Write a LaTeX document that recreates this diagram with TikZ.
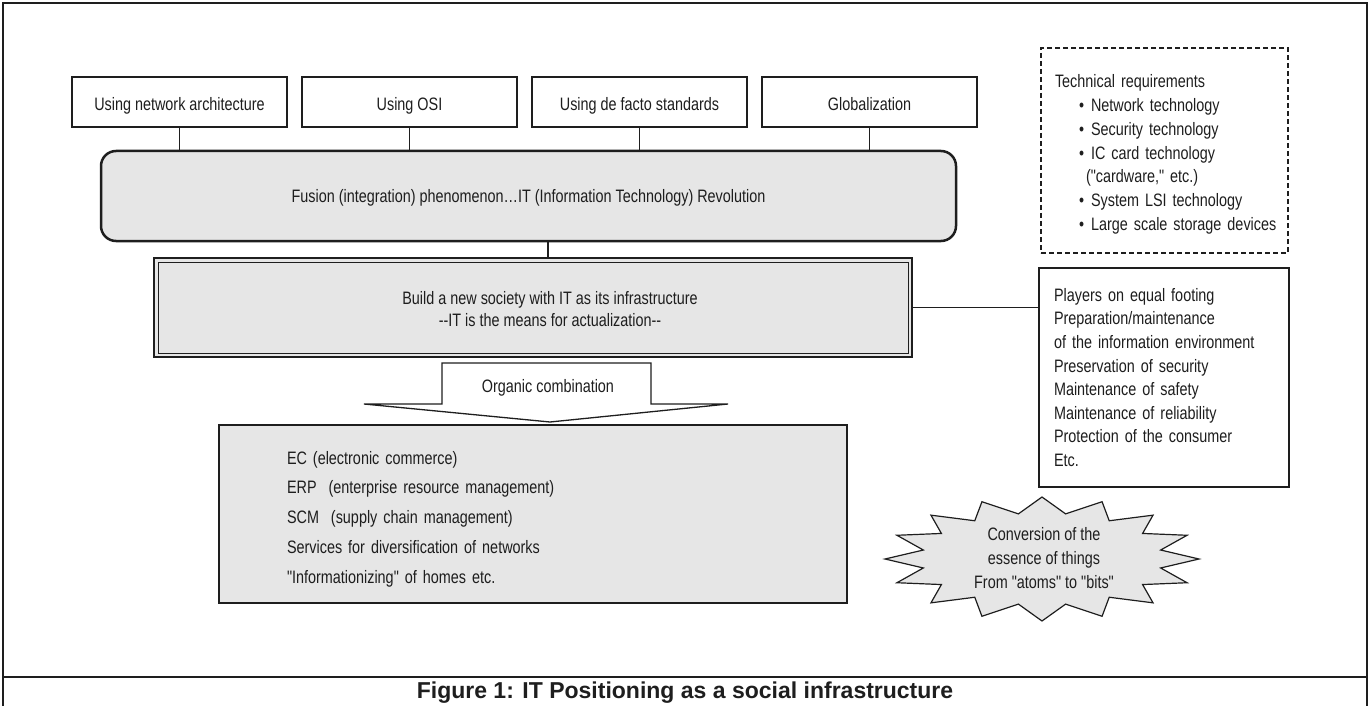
\documentclass[tikz,border=0pt]{standalone}
\usepackage{fontspec}
\setmainfont[FakeStretch=0.80, Ligatures=TeXOff]{Liberation Sans}
\newfontfamily\capfont{Liberation Sans}
\definecolor{ink}{HTML}{1E1E1E}
\definecolor{fillgray}{HTML}{E6E6E6}
\tikzset{
  txt/.style={font=\fontsize{18}{23.6}\selectfont, text=ink},
  topbox/.style={txt, draw=ink, line width=1.3pt, fill=white, minimum width=215pt, minimum height=50pt, inner sep=0pt, text height=17pt, text depth=0pt},
  fusbox/.style={txt, draw=ink, line width=2.5pt, fill=fillgray, rounded corners=15pt, minimum width=855pt, minimum height=90pt, text height=13pt, text depth=0pt},
  dblbox/.style={draw=ink, line width=2.5pt, fill=fillgray, minimum width=758pt, minimum height=99pt, inner sep=0pt},
  plbox/.style={txt, draw=ink, line width=1.3pt, fill=white, align=left, inner xsep=15pt, text width=220pt, minimum height=219pt},
  reqbox/.style={txt, draw=ink, line width=1.3pt, dash pattern=on 5pt off 3pt, align=left, inner xsep=14pt, text width=219pt, minimum height=205pt, font=\fontsize{18}{23.8}\selectfont},
  appbox/.style={txt, draw=ink, line width=2.3pt, fill=fillgray, align=left, inner xsep=68pt, text width=492pt, minimum height=178pt, font=\fontsize{18}{29.7}\selectfont},
  conn/.style={draw=ink, line width=1.3pt},
  orgshape/.style={draw=ink, line width=1.3pt, fill=white, line join=miter},
  burstshape/.style={draw=ink, line width=1.2pt, fill=fillgray, line join=miter},
  framestyle/.style={draw=ink, line width=2.5pt}
}
\begin{document}
\begin{tikzpicture}[x=1pt, y=-1pt]
\useasboundingbox (0,0) rectangle (1371,706);
% frame
\draw[framestyle] (3,706) -- (3,3) -- (1367,3) -- (1367,706);
\draw[framestyle] (3,677) -- (1367,677);

% top boxes
\node[topbox] (t1) at (179.5,102) {Using network architecture};
\node[topbox] (t2) at (409.5,102) {Using OSI};
\node[topbox] (t3) at (639.5,102) {Using de facto standards};
\node[topbox] (t4) at (869.5,102) {Globalization};

% fusion box
\node[fusbox] (fus) at (528.5,196) {Fusion (integration) phenomenon…IT (Information Technology) Revolution};

\foreach \b in {t1,t2,t3,t4}{
  \draw[conn] (\b.south) -- (\b.south |- fus.north);
}

% double box
\node[dblbox] (dbl) at (533,307.5) {};
\draw[draw=ink, line width=1pt] ([shift={(6,6)}]dbl.north west) rectangle ([shift={(-5,-5)}]dbl.south east);
\node[txt, align=center, font=\fontsize{18}{22}\selectfont] (dbltext) at (550,309) {Build a new society with IT as its infrastructure\\--IT is the means for actualization--};

% organic combination arrow
\coordinate (orgc) at (548,388);
\draw[conn] (fus.south -| orgc) -- (dbl.north -| orgc);
\draw[orgshape] (442,363) -- (651,363) -- (651,404) -- (728,404) -- (550,422) -- (364,404) -- (442,404) -- cycle;
\node[txt] (orgtext) at (orgc) {Organic combination};

% applications box
\node[appbox] (apps) at (533,514) {\rule{0pt}{23pt}EC (electronic commerce)\\ERP\ \ (enterprise resource management)\\SCM\ \ (supply chain management)\\Services for diversification of networks\\"Informationizing" of homes etc.};

% technical requirements
\node[reqbox] (req) at (1164.5,150.5) {\rule{0pt}{21pt}Technical requirements\\
\mbox{\hspace*{24pt}\textbullet\hspace{7pt}Network technology}\\
\mbox{\hspace*{24pt}\textbullet\hspace{7pt}Security technology}\\
\mbox{\hspace*{24pt}\textbullet\hspace{7pt}IC card technology}\\
\mbox{\hspace*{31pt}("cardware," etc.)}\\
\mbox{\hspace*{24pt}\textbullet\hspace{7pt}System LSI technology}\\
\mbox{\hspace*{24pt}\textbullet\hspace{7pt}Large scale storage devices}};

% players box
\node[plbox] (pl) at (1164,377.5) {Players on equal footing\\Preparation/maintenance\\of the information environment\\Preservation of security\\Maintenance of safety\\Maintenance of reliability\\Protection of the consumer\\Etc.};
\draw[conn] (dbl.east) -- (dbl.east -| pl.west);

% starburst
\coordinate (bc) at (1042,559);
\draw[burstshape] ([shift={(bc)}]90:157 and 62)
  \foreach \k in {0,...,15}{ -- ([shift={(bc)}]{101.25+22.5*\k}:121 and 46) -- ([shift={(bc)}]{112.5+22.5*\k}:157 and 62) } -- cycle;
\node[txt, align=center, font=\fontsize{18}{24}\selectfont] (burst) at (1044,558) {Conversion of the\\essence of things\\From "atoms" to "bits"};

% caption
\node[text=ink, font=\capfont\bfseries\fontsize{23}{26}\selectfont] (cap) at (685,693) {Figure 1: IT Positioning as a social infrastructure};
\end{tikzpicture}
\end{document}
